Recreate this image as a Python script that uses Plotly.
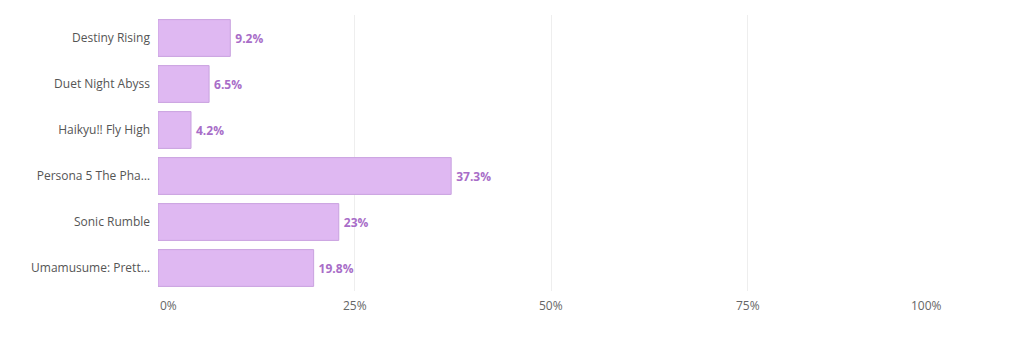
import plotly.graph_objects as go

categories = ["Destiny Rising", "Duet Night Abyss", "Haikyu!! Fly High",
              "Persona 5 The Pha…", "Sonic Rumble", "Umamusume: Prett…"]
values = [9.2, 6.5, 4.2, 37.3, 23, 19.8]
value_labels = ["9.2%", "6.5%", "4.2%", "37.3%", "23%", "19.8%"]
tick_values = [0, 25, 50, 75, 100]
tick_labels = ["0%", "25%", "50%", "75%", "100%"]

FONT = "Segoe UI, Open Sans, Noto Sans, sans-serif"

fig = go.Figure(go.Bar(
    y=categories, x=values, orientation="h",
    marker=dict(color="#dfb8f2", line=dict(color="#c9a2df", width=1)),
    text=value_labels, texttemplate="\u2009%{text}", textposition="outside", cliponaxis=False,
    textfont=dict(family=FONT, size=12, color="#a86dc8", weight="bold"),
))

anchors = ["left" if v == tick_values[0] else "right" if v == tick_values[-1] else "center"
           for v in tick_values]
for v, lab, a in zip(tick_values, tick_labels, anchors):
    fig.add_annotation(x=v, y=0, xref="x", yref="paper", yanchor="top", yshift=-4,
                       xanchor=a, text=lab, showarrow=False,
                       font=dict(family=FONT, size=12, color="#666666"))

fig.update_layout(
    width=1009, height=341,
    margin=dict(l=158, r=65, t=15, b=50),
    plot_bgcolor="white", paper_bgcolor="white",
    bargap=0.2, showlegend=False,
    font=dict(family=FONT, size=12, color="#555555"),
    xaxis=dict(range=[0, 100], tickvals=tick_values, showticklabels=False,
               showgrid=True, gridcolor="#eeeeee", gridwidth=1, zeroline=False,
               showline=False),
    yaxis=dict(autorange="reversed", showgrid=False, zeroline=False,
               ticks="", ticklabelstandoff=7,
               tickfont=dict(family=FONT, size=12, color="#555555")),
)

fig.write_html("out.html")
